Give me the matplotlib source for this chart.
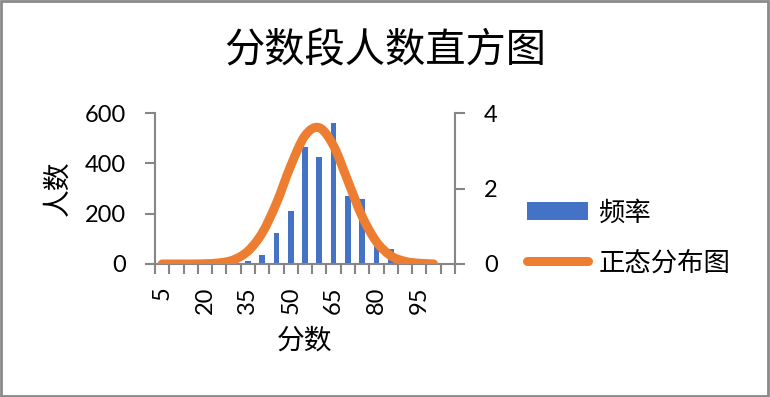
import numpy as np
import matplotlib
matplotlib.use("Agg")
import matplotlib.pyplot as plt
from matplotlib.patches import Rectangle, PathPatch
from matplotlib.path import Path

plt.rcParams['font.family'] = ['Lato', 'Noto Sans CJK SC', 'DejaVu Sans']

# ---- data ----
scores = [5, 10, 15, 20, 25, 30, 35, 40, 45, 50, 55, 60, 65, 70, 75, 80, 85, 90, 95, 100, 105]
counts = [0, 0, 0, 0, 0, 3, 10, 37, 123, 209, 464, 425, 562, 269, 260, 90, 60, 0, 0, 0, 0]
normal = [0.0, 0.0, 0.0005, 0.007, 0.03, 0.11, 0.34, 0.82, 1.61, 2.60,
          3.40, 3.61, 3.13, 2.20, 1.26, 0.59, 0.22, 0.07, 0.02, 0.003]
tick_labels = [str(s) for s in scores[::3]]

blue = '#4472C4'
orange = '#ED7D31'
grey = '#868686'


def smooth_path(xs, ys):
    # excel-style smoothed line: bezier segments through every point
    pts = np.column_stack([xs, ys]).astype(float)
    n = len(pts)
    verts = [pts[0]]
    codes = [Path.MOVETO]
    for i in range(n - 1):
        p0 = pts[max(i - 1, 0)]
        p1 = pts[i]
        p2 = pts[i + 1]
        p3 = pts[min(i + 2, n - 1)]
        verts += [p1 + (p2 - p0) / 6, p2 - (p3 - p1) / 6, p2]
        codes += [Path.CURVE4] * 3
    return Path(verts, codes)


fig = plt.figure(figsize=(7.7, 3.97), dpi=100)
ax = fig.add_axes([155 / 770, 1 - 264 / 397, 300 / 770, 151 / 397])
ax2 = ax.twinx()

idx = np.arange(len(scores))
ax.bar(idx, counts, width=0.4, color=blue, label='频率', zorder=2)
ax2.add_patch(PathPatch(smooth_path(np.arange(len(normal)), normal), fill=False,
                        edgecolor=orange, lw=6.5, capstyle='round', joinstyle='round'))
ax2.plot([], [], color=orange, lw=6.5, solid_capstyle='round', label='正态分布图')

ax.set_xlim(-0.5, len(scores) - 0.5)
ax.set_ylim(0, 600)
ax2.set_ylim(0, 4)
ax.set_yticks([0, 200, 400, 600])
ax2.set_yticks([0, 2, 4])

# tick marks on category boundaries, labels on every third category
ax.set_xticks(np.arange(-0.5, len(scores)), labels=[])
ax.set_xticks(idx[::3], labels=tick_labels, minor=True, rotation=90)
ax.tick_params(axis='x', which='major', length=7, width=1.5, color=grey)
ax.tick_params(axis='x', which='minor', length=0, pad=16, labelsize=17)
ax.tick_params(axis='y', length=7, width=1.5, color=grey, pad=14, labelsize=17)
ax2.tick_params(axis='y', length=7, width=1.5, color=grey, pad=14, labelsize=17)

for a in (ax, ax2):
    a.spines['top'].set_visible(False)
    for s in ('left', 'right', 'bottom'):
        a.spines[s].set_color(grey)
        a.spines[s].set_linewidth(1.5)
ax.spines['right'].set_visible(False)
ax2.spines['left'].set_visible(False)
ax2.spines['bottom'].set_visible(False)

fig.text(0.5, 1 - 50 / 397, '分数段人数直方图', ha='center', va='center', fontsize=29)
fig.text(305 / 770, 1 - 341 / 397, '分数', ha='center', va='center', fontsize=20)
fig.text(57 / 770, 1 - 188 / 397, '人数', ha='center', va='center', fontsize=20, rotation=90)

h1, l1 = ax.get_legend_handles_labels()
h2, l2 = ax2.get_legend_handles_labels()
fig.legend(h1 + h2, l1 + l2, loc='center left', bbox_to_anchor=(527 / 770, 1 - 238 / 397),
           frameon=False, fontsize=19, handlelength=2.3, handletextpad=0.4,
           labelspacing=0.95, borderpad=0, borderaxespad=0)

fig.patches.append(Rectangle((0.001, 0.003), 0.997, 0.995, transform=fig.transFigure,
                             fill=False, edgecolor='#8a8a8a', linewidth=2))

fig.savefig('out.png', dpi=100)
